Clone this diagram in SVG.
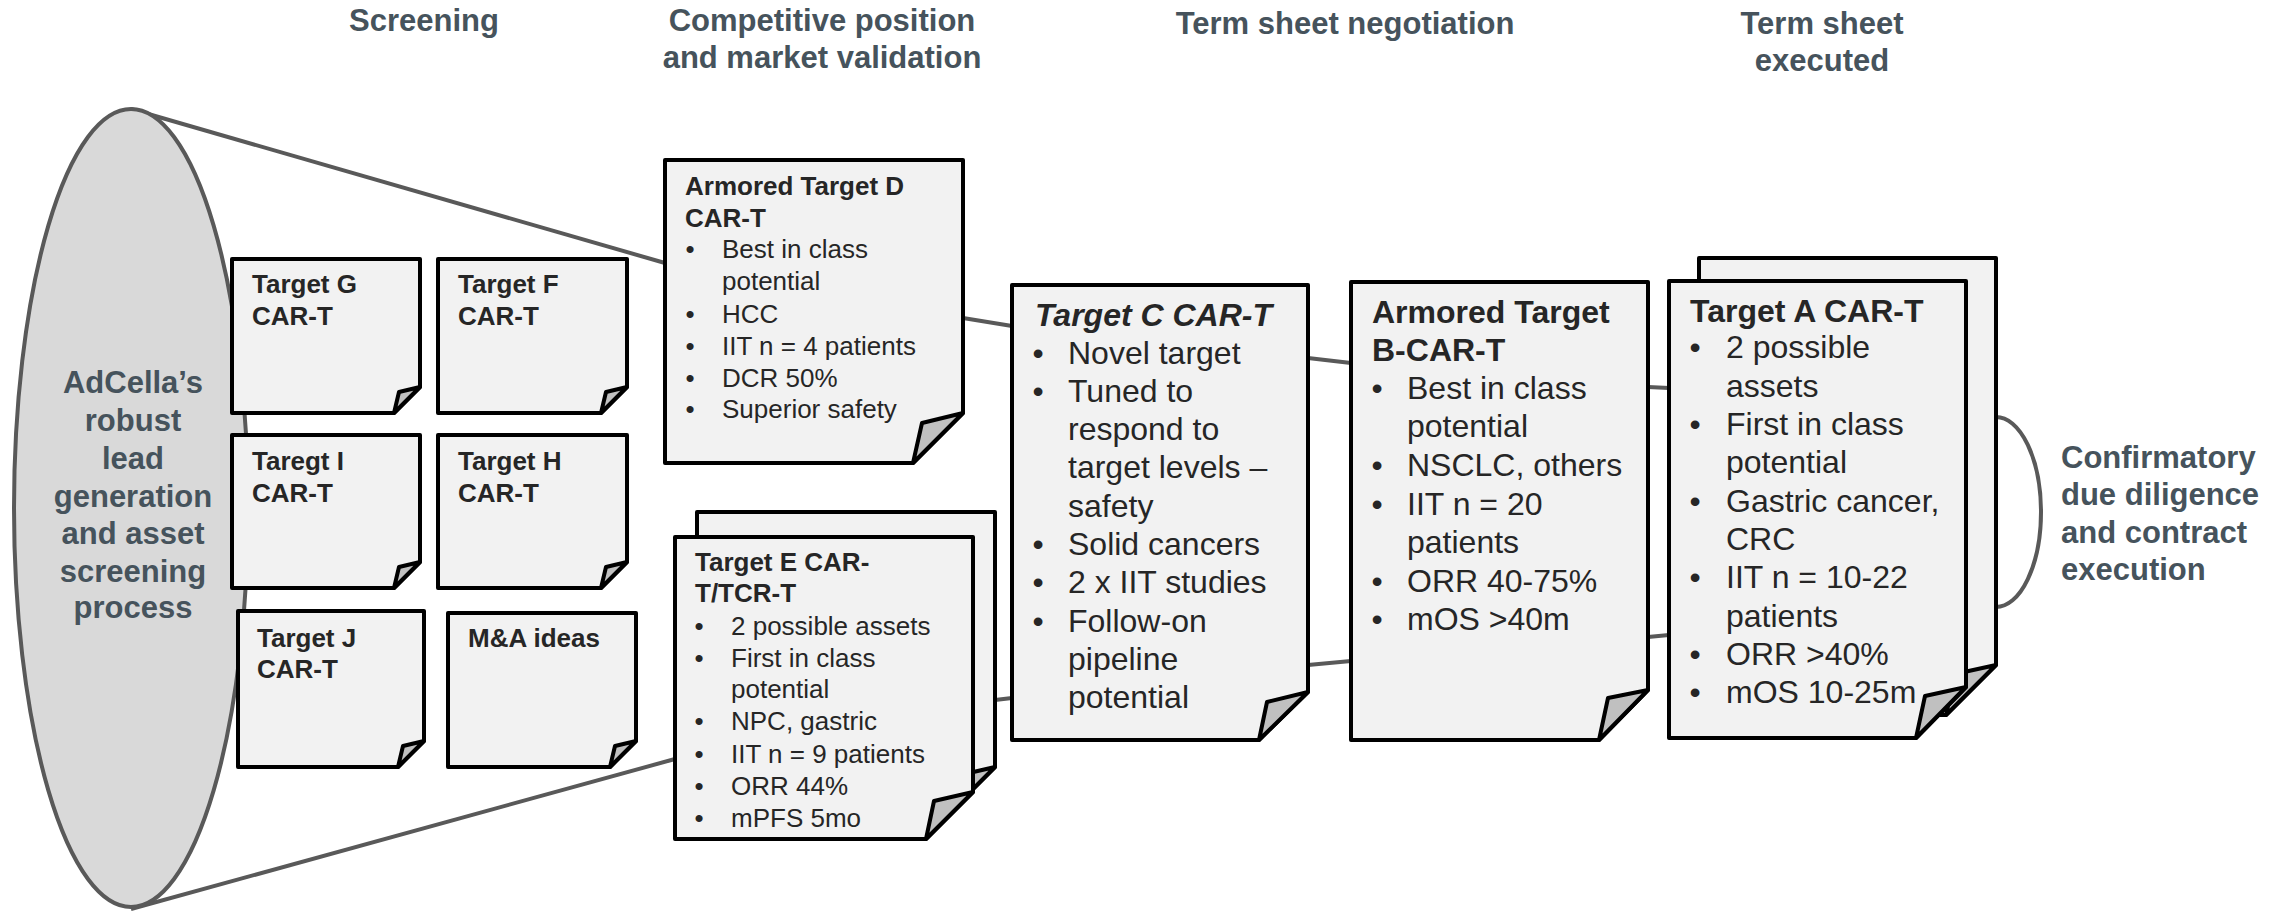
<svg xmlns="http://www.w3.org/2000/svg" width="2291" height="911" viewBox="0 0 2291 911">
<style>
.bg{fill:#ffffff}
.box{fill:#f2f2f2;stroke:#000;stroke-width:4;stroke-linejoin:round}
.flap{fill:#c0c0c0;stroke:#000;stroke-width:4;stroke-linejoin:round}
.conn{stroke:#595959;stroke-width:4;fill:none}
.funnel{fill:#d9d9d9;stroke:#595959;stroke-width:4}
text{font-family:"Liberation Sans",Arial,sans-serif}
.hdr{font-weight:bold;font-size:31px;fill:#46535c;text-anchor:middle}
.slate{font-weight:bold;font-size:31px;fill:#46535c}
.mid{text-anchor:middle}
.s26b{font-weight:bold;font-size:26px;fill:#262626}
.s26{font-size:26px;fill:#262626}
.s32b{font-weight:bold;font-size:32px;fill:#262626}
.s32bi{font-weight:bold;font-style:italic;font-size:32px;fill:#262626}
.s32{font-size:32px;fill:#262626}
</style>
<rect class="bg" x="0" y="0" width="2291" height="911"/>

<g id="headers">
<text class="hdr" x="424" y="31">Screening</text>
<text class="hdr" x="822" y="31">Competitive position</text>
<text class="hdr" x="822" y="68">and market validation</text>
<text class="hdr" x="1345" y="34">Term sheet negotiation</text>
<text class="hdr" x="1822" y="34">Term sheet</text>
<text class="hdr" x="1822" y="71">executed</text>
</g>

<g id="connectors">
<line class="conn" x1="131" y1="109" x2="665" y2="263"/>
<line class="conn" x1="131" y1="909" x2="675" y2="759"/>
<line class="conn" x1="963" y1="318" x2="1012" y2="326"/>
<line class="conn" x1="995" y1="700" x2="1012" y2="698"/>
<line class="conn" x1="1308" y1="358" x2="1351" y2="363"/>
<line class="conn" x1="1308" y1="665" x2="1351" y2="661"/>
<line class="conn" x1="1648" y1="387" x2="1669" y2="388"/>
<line class="conn" x1="1648" y1="637" x2="1669" y2="635"/>
<path class="conn" d="M1996,417 A45,95 0 0 1 1996,607"/>
</g>

<g id="funnel">
<ellipse class="funnel" cx="131" cy="508" rx="117" ry="399"/>
<text class="slate mid" x="133" y="393">AdCella’s</text>
<text class="slate mid" x="133" y="431">robust</text>
<text class="slate mid" x="133" y="469">lead</text>
<text class="slate mid" x="133" y="507">generation</text>
<text class="slate mid" x="133" y="544">and asset</text>
<text class="slate mid" x="133" y="582">screening</text>
<text class="slate mid" x="133" y="618">process</text>
</g>

<g id="target-g">
<path class="box" d="M232,259 H420 V387 L394,413 H232 Z"/>
<path class="flap" d="M394,413 L399,392 L420,387 Z"/>
<text class="s26b" x="252" y="293">Target G</text>
<text class="s26b" x="252" y="325">CAR-T</text>
</g>
<g id="target-f">
<path class="box" d="M438,259 H627 V387 L601,413 H438 Z"/>
<path class="flap" d="M601,413 L606,392 L627,387 Z"/>
<text class="s26b" x="458" y="293">Target F</text>
<text class="s26b" x="458" y="325">CAR-T</text>
</g>
<g id="target-i">
<path class="box" d="M232,435 H420 V562 L394,588 H232 Z"/>
<path class="flap" d="M394,588 L399,567 L420,562 Z"/>
<text class="s26b" x="252" y="470">Taregt I</text>
<text class="s26b" x="252" y="502">CAR-T</text>
</g>
<g id="target-h">
<path class="box" d="M438,435 H627 V562 L601,588 H438 Z"/>
<path class="flap" d="M601,588 L606,567 L627,562 Z"/>
<text class="s26b" x="458" y="470">Target H</text>
<text class="s26b" x="458" y="502">CAR-T</text>
</g>
<g id="target-j">
<path class="box" d="M238,611 H424 V741 L398,767 H238 Z"/>
<path class="flap" d="M398,767 L403,746 L424,741 Z"/>
<text class="s26b" x="257" y="647">Target J</text>
<text class="s26b" x="257" y="678">CAR-T</text>
</g>
<g id="ma-ideas">
<path class="box" d="M448,613 H636 V741 L610,767 H448 Z"/>
<path class="flap" d="M610,767 L615,746 L636,741 Z"/>
<text class="s26b" x="468" y="647">M&amp;A ideas</text>
</g>

<g id="target-d">
<path class="box" d="M665,160 H963 V413 L913,463 H665 Z"/>
<path class="flap" d="M913,463 L922,423 L963,413 Z"/>
<text class="s26b" x="685" y="195">Armored Target D</text>
<text class="s26b" x="685" y="227">CAR-T</text>
<text class="s26 mid" x="690" y="258">•</text><text class="s26" x="722" y="258">Best in class</text>
<text class="s26" x="722" y="290">potential</text>
<text class="s26 mid" x="690" y="323">•</text><text class="s26" x="722" y="323">HCC</text>
<text class="s26 mid" x="690" y="355">•</text><text class="s26" x="722" y="355">IIT n = 4 patients</text>
<text class="s26 mid" x="690" y="387">•</text><text class="s26" x="722" y="387">DCR 50%</text>
<text class="s26 mid" x="690" y="418">•</text><text class="s26" x="722" y="418">Superior safety</text>
</g>

<g id="target-e">
<path class="box" d="M697,512 H995 V767 L948,814 H697 Z"/>
<path class="flap" d="M948,814 L956,776 L995,767 Z"/>
<path class="box" d="M675,537 H973 V792 L926,839 H675 Z"/>
<path class="flap" d="M926,839 L934,801 L973,792 Z"/>
<text class="s26b" x="695" y="571">Target E CAR-</text>
<text class="s26b" x="695" y="602">T/TCR-T</text>
<text class="s26 mid" x="699" y="635">•</text><text class="s26" x="731" y="635">2 possible assets</text>
<text class="s26 mid" x="699" y="667">•</text><text class="s26" x="731" y="667">First in class</text>
<text class="s26" x="731" y="698">potential</text>
<text class="s26 mid" x="699" y="730">•</text><text class="s26" x="731" y="730">NPC, gastric</text>
<text class="s26 mid" x="699" y="763">•</text><text class="s26" x="731" y="763">IIT n = 9 patients</text>
<text class="s26 mid" x="699" y="795">•</text><text class="s26" x="731" y="795">ORR 44%</text>
<text class="s26 mid" x="699" y="827">•</text><text class="s26" x="731" y="827">mPFS 5mo</text>
</g>

<g id="target-c">
<path class="box" d="M1012,285 H1308 V692 L1259,740 H1012 Z"/>
<path class="flap" d="M1259,740 L1267,702 L1308,692 Z"/>
<text class="s32bi" x="1035" y="326">Target C CAR-T</text>
<text class="s32 mid" x="1038" y="364">•</text><text class="s32" x="1068" y="364">Novel target</text>
<text class="s32 mid" x="1038" y="402">•</text><text class="s32" x="1068" y="402">Tuned to</text>
<text class="s32" x="1068" y="440">respond to</text>
<text class="s32" x="1068" y="478">target levels –</text>
<text class="s32" x="1068" y="517">safety</text>
<text class="s32 mid" x="1038" y="555">•</text><text class="s32" x="1068" y="555">Solid cancers</text>
<text class="s32 mid" x="1038" y="593">•</text><text class="s32" x="1068" y="593">2 x IIT studies</text>
<text class="s32 mid" x="1038" y="632">•</text><text class="s32" x="1068" y="632">Follow-on</text>
<text class="s32" x="1068" y="670">pipeline</text>
<text class="s32" x="1068" y="708">potential</text>
</g>

<g id="target-b">
<path class="box" d="M1351,282 H1648 V690 L1599,740 H1351 Z"/>
<path class="flap" d="M1599,740 L1608,698 L1648,690 Z"/>
<text class="s32b" x="1372" y="323">Armored Target</text>
<text class="s32b" x="1372" y="361">B-CAR-T</text>
<text class="s32 mid" x="1377" y="399">•</text><text class="s32" x="1407" y="399">Best in class</text>
<text class="s32" x="1407" y="437">potential</text>
<text class="s32 mid" x="1377" y="476">•</text><text class="s32" x="1407" y="476">NSCLC, others</text>
<text class="s32 mid" x="1377" y="515">•</text><text class="s32" x="1407" y="515">IIT n = 20</text>
<text class="s32" x="1407" y="553">patients</text>
<text class="s32 mid" x="1377" y="592">•</text><text class="s32" x="1407" y="592">ORR 40-75%</text>
<text class="s32 mid" x="1377" y="630">•</text><text class="s32" x="1407" y="630">mOS &gt;40m</text>
</g>

<g id="target-a">
<path class="box" d="M1699,258 H1996 V665 L1946,715 H1699 Z"/>
<path class="flap" d="M1946,715 L1955,674 L1996,665 Z"/>
<path class="box" d="M1669,281 H1966 V687 L1916,738 H1669 Z"/>
<path class="flap" d="M1916,738 L1925,696 L1966,687 Z"/>
<text class="s32b" x="1690" y="322">Target A CAR-T</text>
<text class="s32 mid" x="1695" y="358">•</text><text class="s32" x="1726" y="358">2 possible</text>
<text class="s32" x="1726" y="397">assets</text>
<text class="s32 mid" x="1695" y="435">•</text><text class="s32" x="1726" y="435">First in class</text>
<text class="s32" x="1726" y="473">potential</text>
<text class="s32 mid" x="1695" y="512">•</text><text class="s32" x="1726" y="512">Gastric cancer,</text>
<text class="s32" x="1726" y="550">CRC</text>
<text class="s32 mid" x="1695" y="588">•</text><text class="s32" x="1726" y="588">IIT n = 10-22</text>
<text class="s32" x="1726" y="627">patients</text>
<text class="s32 mid" x="1695" y="665">•</text><text class="s32" x="1726" y="665">ORR &gt;40%</text>
<text class="s32 mid" x="1695" y="703">•</text><text class="s32" x="1726" y="703">mOS 10-25m</text>
</g>

<g id="confirmatory">
<text class="slate" x="2061" y="468">Confirmatory</text>
<text class="slate" x="2061" y="505">due diligence</text>
<text class="slate" x="2061" y="543">and contract</text>
<text class="slate" x="2061" y="580">execution</text>
</g>
</svg>
